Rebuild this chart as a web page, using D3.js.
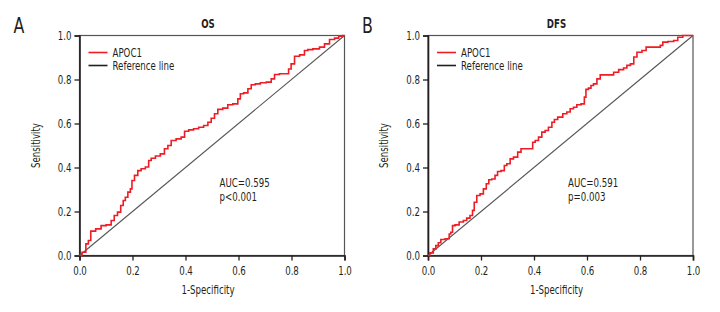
<!DOCTYPE html>
<html>
<head>
<meta charset="utf-8">
<script src="https://cdn.jsdelivr.net/npm/d3@7"></script>
<style>
  body { margin: 0; background: #fff; }
  svg text { font-family: "Liberation Sans Narrow", "DejaVu Sans Condensed", sans-serif; fill: #231f20; }
</style>
</head>
<body>
<div id="chart"></div>
<script>
// ROC curve points: [1-specificity, sensitivity]
const osRoc = [
  [0,0],[0.019,0.015],[0.029,0.053],[0.038,0.068],[0.047,0.111],[0.075,0.121],
  [0.088,0.136],[0.113,0.139],[0.126,0.159],[0.136,0.182],[0.151,0.197],[0.160,0.227],
  [0.170,0.250],[0.176,0.265],[0.189,0.288],[0.195,0.303],[0.201,0.341],[0.214,0.364],
  [0.226,0.386],[0.239,0.394],[0.258,0.402],[0.264,0.432],[0.277,0.442],[0.296,0.452],
  [0.314,0.462],[0.327,0.485],[0.340,0.500],[0.352,0.523],[0.377,0.530],[0.390,0.538],
  [0.403,0.565],[0.421,0.571],[0.440,0.576],[0.459,0.583],[0.478,0.591],[0.491,0.606],
  [0.503,0.624],[0.516,0.644],[0.528,0.664],[0.553,0.670],[0.566,0.685],[0.591,0.689],
  [0.604,0.712],[0.610,0.735],[0.629,0.739],[0.642,0.758],[0.654,0.776],[0.673,0.780],
  [0.692,0.785],[0.717,0.788],[0.730,0.803],[0.742,0.823],[0.767,0.826],[0.786,0.826],
  [0.792,0.848],[0.805,0.871],[0.818,0.906],[0.843,0.912],[0.855,0.932],[0.868,0.936],
  [0.893,0.939],[0.918,0.947],[0.931,0.962],[0.956,0.982],[0.969,0.988],[0.987,0.997],[1,1]
];

const dfsRoc = [
  [0,0],[0.014,0.012],[0.026,0.030],[0.033,0.045],[0.045,0.058],[0.052,0.073],
  [0.077,0.076],[0.083,0.098],[0.089,0.106],[0.096,0.136],[0.108,0.139],[0.127,0.152],
  [0.140,0.159],[0.152,0.170],[0.165,0.182],[0.171,0.205],[0.178,0.242],[0.190,0.273],
  [0.203,0.280],[0.215,0.303],[0.225,0.326],[0.234,0.344],[0.247,0.348],[0.259,0.364],
  [0.266,0.382],[0.285,0.386],[0.291,0.409],[0.304,0.417],[0.316,0.439],[0.329,0.447],
  [0.348,0.470],[0.354,0.485],[0.392,0.485],[0.398,0.515],[0.411,0.523],[0.423,0.538],
  [0.436,0.561],[0.448,0.568],[0.461,0.583],[0.474,0.606],[0.480,0.618],[0.499,0.629],
  [0.518,0.644],[0.530,0.652],[0.543,0.667],[0.555,0.674],[0.568,0.685],[0.587,0.689],
  [0.593,0.720],[0.599,0.755],[0.612,0.761],[0.618,0.773],[0.631,0.780],[0.644,0.803],
  [0.656,0.821],[0.694,0.821],[0.707,0.833],[0.732,0.845],[0.744,0.852],[0.757,0.864],
  [0.771,0.871],[0.782,0.902],[0.795,0.924],[0.820,0.932],[0.826,0.947],[0.870,0.947],
  [0.883,0.955],[0.889,0.970],[0.921,0.973],[0.933,0.977],[0.952,0.992],[0.971,1.0],[1,1]
];

const panelLetters = ["A", "B"];
const panelTitles = ["OS", "DFS"];
const statLines = [["AUC=0.595", "p<0.001"], ["AUC=0.591", "p=0.003"]];
const legendLabels = ["APOC1", "Reference line"];
const tickValues = [0, 0.2, 0.4, 0.6, 0.8, 1.0];

const width = 720, height = 312;
const svg = d3.select("#chart").append("svg")
  .attr("width", width)
  .attr("height", height);

// left edge of each panel's plot area
const plotLefts = [79.5, 428];
const plotW = 265, plotTop = 35.5, plotBottom = 255.5;

// the original font is a condensed face, so squeeze text horizontally
const sx = 0.8;
function label(g, x, y, str, size, anchor) {
  return g.append("text")
    .attr("transform", `translate(${x},${y}) scale(${sx},1)`)
    .attr("text-anchor", anchor || "start")
    .attr("font-size", size)
    .text(str);
}

function drawPanel(i, data) {
  const x0 = plotLefts[i];
  const x = d3.scaleLinear().domain([0, 1]).range([x0, x0 + plotW]);
  const y = d3.scaleLinear().domain([0, 1]).range([plotBottom, plotTop]);
  const g = svg.append("g");

  // frame
  g.append("rect")
    .attr("x", x(0)).attr("y", y(1))
    .attr("width", plotW).attr("height", plotBottom - plotTop)
    .attr("fill", "none")
    .attr("stroke", "#555")
    .attr("stroke-width", 1.2);

  // axes
  const xAxis = g.append("g")
    .attr("transform", `translate(0,${plotBottom})`)
    .call(d3.axisBottom(x).tickValues(tickValues).tickFormat(d3.format(".1f")).tickSizeOuter(0).tickSize(5));
  const yAxis = g.append("g")
    .attr("transform", `translate(${x0},0)`)
    .call(d3.axisLeft(y).tickValues(tickValues).tickFormat(d3.format(".1f")).tickSizeOuter(0).tickSize(5));
  [xAxis, yAxis].forEach(a => {
    a.select(".domain").attr("stroke", "#231f20").attr("stroke-width", 1.6);
    a.selectAll(".tick line").attr("stroke", "#231f20").attr("stroke-width", 1.3);
    a.selectAll(".tick text").attr("font-size", 12).attr("fill", "#231f20")
      .attr("transform", `scale(${sx},1)`)
      .style("font-family", '"Liberation Sans Narrow", "DejaVu Sans Condensed", sans-serif');
  });
  xAxis.selectAll(".tick text").attr("dy", "0.95em").attr("y", 8);
  yAxis.selectAll(".tick text").attr("x", -8 / sx);

  // reference diagonal
  g.append("line")
    .attr("x1", x(0)).attr("y1", y(0))
    .attr("x2", x(1)).attr("y2", y(1))
    .attr("stroke", "#555")
    .attr("stroke-width", 1.1);

  // ROC curve
  const line = d3.line()
    .x(d => x(d[0]))
    .y(d => y(d[1]))
    .curve(d3.curveStep);
  g.append("path")
    .datum(data)
    .attr("d", line)
    .attr("fill", "none")
    .attr("stroke", "#ee1c25")
    .attr("stroke-width", 1.6);

  // legend
  const legColors = ["#ee1c25", "#231f20"];
  legendLabels.forEach((lab, k) => {
    const ly = plotTop + 17 + k * 13;
    g.append("line")
      .attr("x1", x0 + 9).attr("x2", x0 + 28)
      .attr("y1", ly).attr("y2", ly)
      .attr("stroke", legColors[k]).attr("stroke-width", 1.6);
    label(g, x0 + 33, ly + 4.5, lab, 12);
  });

  // stats
  statLines[i].forEach((t, k) => {
    label(g, x0 + 140, 187 + k * 14, t, 12);
  });

  // titles and labels
  label(g, x(0.5) - 4, 27.5, panelTitles[i], 12, "middle").attr("font-weight", "bold");
  label(g, x0 - 66, 33, panelLetters[i], 22);
  label(g, x(0.5) - 4, 294, "1-Specificity", 12, "middle");

  g.append("text")
    .attr("transform", `translate(${x0 - 40},${(plotTop + plotBottom) / 2}) rotate(-90) scale(${sx},1)`)
    .attr("text-anchor", "middle")
    .attr("font-size", 12)
    .text("Sensitivity");
}

drawPanel(0, osRoc);
drawPanel(1, dfsRoc);
</script>
</body>
</html>
